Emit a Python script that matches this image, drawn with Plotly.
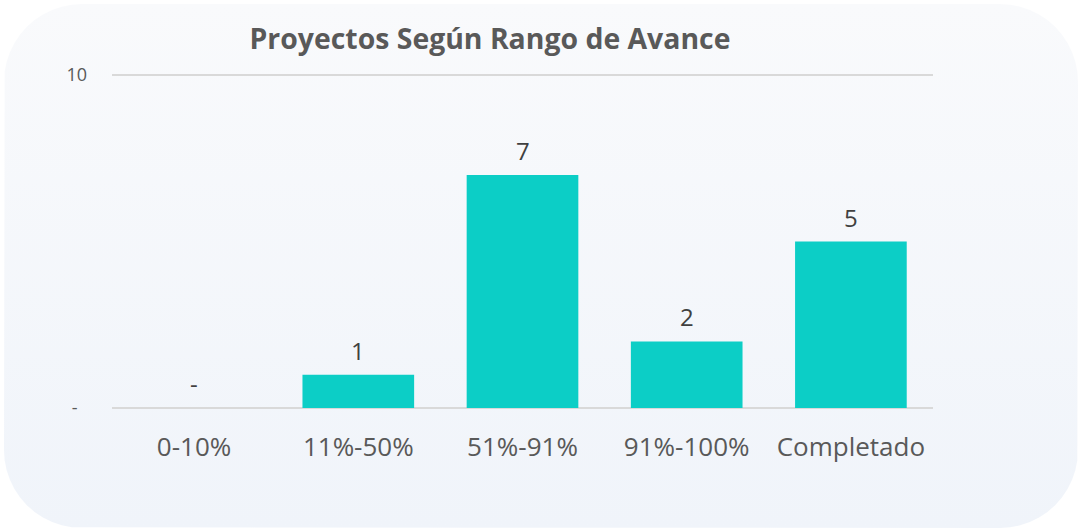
import math
import plotly.graph_objects as go

categories = ["0-10%", "11%-50%", "51%-91%", "91%-100%", "Completado"]
values = [0, 1, 7, 2, 5]
y_tickvals = [0, 10]
y_ticktext = ["-\u00a0\u00a0", "10"]
title_text = "Proyectos Según Rango de Avance"

W, H = 1083, 530
PL, PR, PT, PB = 112, 933, 75, 408  # plot area in pixels
YMAX = 10.1
PT_ext = PB - (PB - PT) * YMAX / 10

labels = ["-" if v == 0 else str(v) for v in values]

fig = go.Figure()

# background rounded panel with vertical gradient (decoration, on full-figure axes)
x0, x1, y0, y1, rad = 4, 1078, 4, 528, 78
bx, by = [], []
corners = [(x1 - rad, y0 + rad, -90, 0), (x1 - rad, y1 - rad, 0, 90),
           (x0 + rad, y1 - rad, 90, 180), (x0 + rad, y0 + rad, 180, 270)]
for cx, cy, a0, a1 in corners:
    for k in range(13):
        a = math.radians(a0 + (a1 - a0) * k / 12)
        bx.append(cx + rad * math.cos(a))
        by.append(cy + rad * math.sin(a))
bx.append(bx[0]); by.append(by[0])
fig.add_trace(go.Scatter(
    x=bx, y=by, xaxis="x", yaxis="y", mode="lines", fill="toself",
    line=dict(width=0, color="rgba(0,0,0,0)"),
    fillgradient=dict(type="vertical",
                      colorscale=[[0, "#F0F4FA"], [1, "#F9FAFC"]]),
    hoverinfo="skip", showlegend=False,
))

fig.add_trace(go.Bar(
    x=categories, y=values, xaxis="x2", yaxis="y2",
    marker=dict(color="#0CCEC6", line=dict(width=0)),
    hoverinfo="x+y", showlegend=False,
))

for c, v, t in zip(categories, values, labels):
    fig.add_annotation(x=c, y=v, xref="x2", yref="y2", text=t, showarrow=False,
                       yanchor="bottom", yshift=6,
                       font=dict(family="Open Sans", size=24, color="#404040"))

fig.update_layout(
    width=W, height=H,
    margin=dict(l=0, r=0, t=0, b=0, autoexpand=False),
    paper_bgcolor="white", plot_bgcolor="rgba(0,0,0,0)",
    bargap=0.32,
    showlegend=False,
    title=dict(text=f"<b>{title_text}</b>", x=490 / W, xanchor="center",
               xref="paper", y=1 - 39 / H, yanchor="middle", yref="container",
               automargin=False,
               font=dict(family="Open Sans", size=28.4, color="#595959")),
    xaxis=dict(domain=[0, 1], range=[0, W], visible=False, fixedrange=True,
               automargin=False),
    yaxis=dict(domain=[0, 1], range=[H, 0], visible=False, fixedrange=True,
               automargin=False),
    xaxis2=dict(domain=[PL / W, PR / W], anchor="y2", automargin=False,
                showgrid=False, showline=False, zeroline=False, ticks="",
                ticklabelstandoff=21,
                tickfont=dict(family="Open Sans", size=26, color="#595959")),
    yaxis2=dict(domain=[1 - PB / H, 1 - PT_ext / H], anchor="x2", automargin=False,
                range=[0, YMAX], tickvals=y_tickvals, ticktext=y_ticktext,
                showgrid=True, gridcolor="#D9D9D9", gridwidth=1.5,
                zeroline=True, zerolinecolor="#D9D9D9", zerolinewidth=1.5,
                showline=False, ticks="", ticklabelstandoff=24,
                tickfont=dict(family="Open Sans", size=18, color="#595959")),
)

fig.write_html("out.html", config={"displayModeBar": False},
               post_script="document.body.style.margin='0';")
